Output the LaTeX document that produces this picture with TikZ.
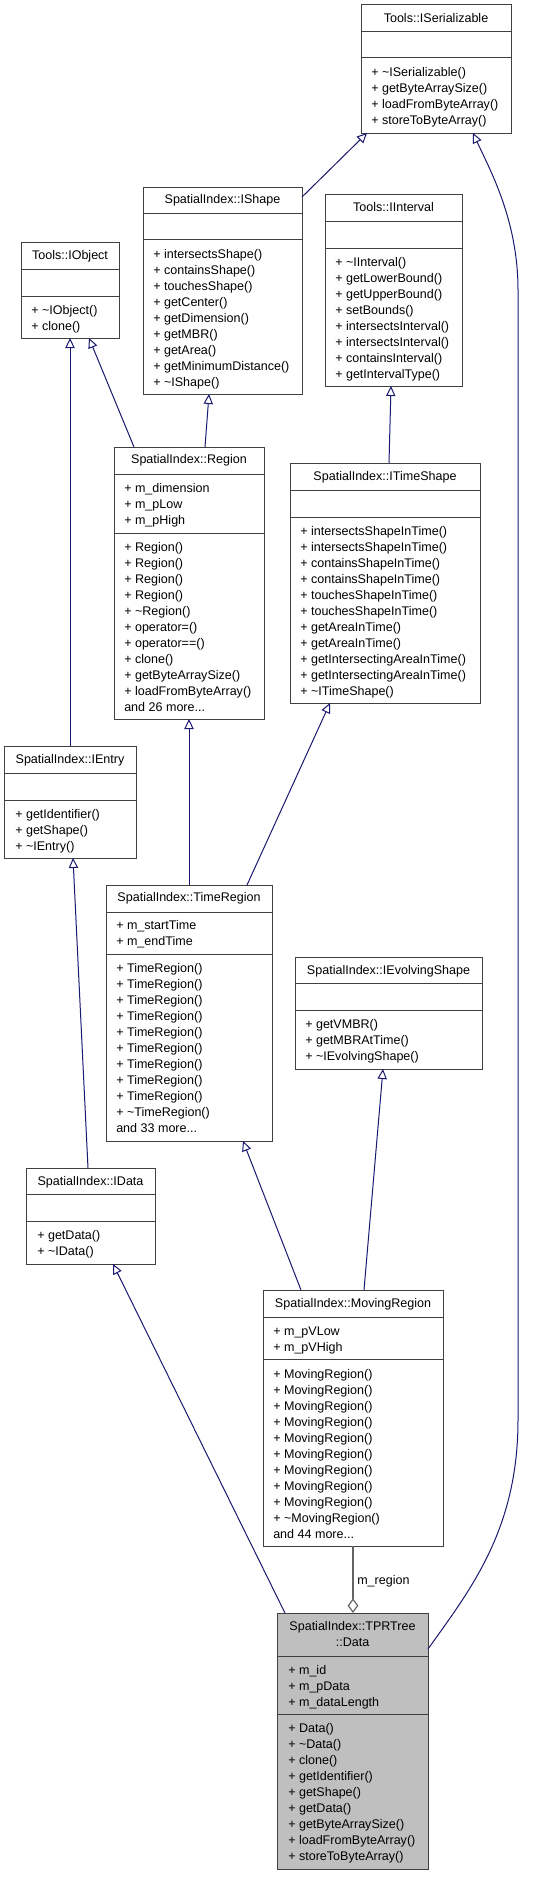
\documentclass[tikz,border=0pt]{standalone}
\usepackage{fontspec}
\setmainfont{Liberation Sans}
\usetikzlibrary{arrows.meta,calc,fit}
\definecolor{edgecol}{HTML}{191970}
\definecolor{boxline}{HTML}{404040}
\definecolor{aggrcol}{HTML}{646464}
\definecolor{datafill}{HTML}{BFBFBF}
\tikzset{
  classbox/.style={inner sep=0pt, outer sep=0pt, draw=boxline, line width=0.75pt},
  seprule/.style={draw=boxline, line width=0.75pt},
  mtxt/.style={anchor=west, inner sep=0pt, text height=7pt, text depth=2pt},
  ttxt/.style={inner sep=0pt, text height=7pt, text depth=2pt},
  inh/.style={draw=edgecol, line width=0.75pt, -{Triangle[open, length=7.5pt, width=7pt]}},
  aggr/.style={draw=aggrcol, line width=0.9pt, -{Diamond[open, length=11pt, width=8pt]}},
}
\newcommand\umlclass[8]{%
  \node[classbox, fit={(#2,#3) (#4,#5)}, #8] (#1) {};
  \draw[seprule] (#2,#6) -- (#4,#6) (#2,#7) -- (#4,#7);
}
\newcommand\mlines[3]{%
  \foreach \t [count=\k from 0] in {#3} {\node[mtxt] at (#1,{#2+16*\k}) {\t};}%
}
\newcommand\tl{\textasciitilde}
\newcommand\mdots{...}
\begin{document}
\begin{tikzpicture}[x=0.75pt, y=-0.75pt, font=\fontsize{9.4}{12}\selectfont]
\path[use as bounding box] (0,0) rectangle (545,1877);

% Tools::ISerializable
\umlclass{iserial}{361}{5}{511}{133}{32}{58}{}
\node[ttxt] (iserialT) at (436,19) {Tools::ISerializable};
\mlines{371}{73}{+ \tl ISerializable(), + getByteArraySize(), + loadFromByteArray(), + storeToByteArray()}

% SpatialIndex::IShape
\umlclass{ishape}{143}{187}{302}{394}{213}{239}{}
\node[ttxt] (ishapeT) at (222.5,200) {SpatialIndex::IShape};
\mlines{153}{255}{+ intersectsShape(), + containsShape(), + touchesShape(), + getCenter(), + getDimension(), + getMBR(), + getArea(), + getMinimumDistance(), + \tl IShape()}

% Tools::IInterval
\umlclass{iinterval}{325}{194}{462}{386}{221}{248}{}
\node[ttxt] (iintervalT) at (393.5,208) {Tools::IInterval};
\mlines{335}{263}{+ \tl IInterval(), + getLowerBound(), + getUpperBound(), + setBounds(), + intersectsInterval(), + intersectsInterval(), + containsInterval(), + getIntervalType()}

% Tools::IObject
\umlclass{iobject}{21}{242}{119}{338}{269}{296}{}
\node[ttxt] (iobjectT) at (70,256) {Tools::IObject};
\mlines{31}{311}{+ \tl IObject(), + clone()}

% SpatialIndex::Region
\umlclass{region}{114}{447}{264}{719}{474}{533}{}
\node[ttxt] (regionT) at (189,460) {SpatialIndex::Region};
\mlines{124}{489}{+ m\_dimension, + m\_pLow, + m\_pHigh}
\mlines{124}{548}{+ Region(), + Region(), + Region(), + Region(), + \tl Region(), + operator=(), + operator==(), + clone(), + getByteArraySize(), + loadFromByteArray(), and 26 more\mdots}

% SpatialIndex::ITimeShape
\umlclass{itimeshape}{290}{463}{480}{703}{490}{517}{}
\node[ttxt] (itimeshapeT) at (385,477) {SpatialIndex::ITimeShape};
\mlines{300}{532}{+ intersectsShapeInTime(), + intersectsShapeInTime(), + containsShapeInTime(), + containsShapeInTime(), + touchesShapeInTime(), + touchesShapeInTime(), + getAreaInTime(), + getAreaInTime(), + getIntersectingAreaInTime(), + getIntersectingAreaInTime(), + \tl ITimeShape()}

% SpatialIndex::IEntry
\umlclass{ientry}{4}{746}{136}{858}{773}{800}{}
\node[ttxt] (ientryT) at (70,760) {SpatialIndex::IEntry};
\mlines{15}{815}{+ getIdentifier(), + getShape(), + \tl IEntry()}

% SpatialIndex::TimeRegion
\umlclass{timeregion}{106}{885}{272}{1141}{912}{954}{}
\node[ttxt] (timeregionT) at (189,898) {SpatialIndex::TimeRegion};
\mlines{116}{926}{+ m\_startTime, + m\_endTime}
\mlines{116}{969}{+ TimeRegion(), + TimeRegion(), + TimeRegion(), + TimeRegion(), + TimeRegion(), + TimeRegion(), + TimeRegion(), + TimeRegion(), + TimeRegion(), + \tl TimeRegion(), and 33 more\mdots}

% SpatialIndex::IEvolvingShape
\umlclass{ievolving}{295}{957}{482}{1069}{983}{1010}{}
\node[ttxt] (ievolvingT) at (388.5,971) {SpatialIndex::IEvolvingShape};
\mlines{305}{1025}{+ getVMBR(), + getMBRAtTime(), + \tl IEvolvingShape()}

% SpatialIndex::IData
\umlclass{idata}{26}{1168}{155}{1264}{1194}{1221}{}
\node[ttxt] (idataT) at (90.5,1182) {SpatialIndex::IData};
\mlines{37}{1236}{+ getData(), + \tl IData()}

% SpatialIndex::MovingRegion
\umlclass{movreg}{263}{1290}{443}{1546}{1317}{1359}{}
\node[ttxt] (movregT) at (353,1304) {SpatialIndex::MovingRegion};
\mlines{273}{1332}{+ m\_pVLow, + m\_pVHigh}
\mlines{273}{1375}{+ MovingRegion(), + MovingRegion(), + MovingRegion(), + MovingRegion(), + MovingRegion(), + MovingRegion(), + MovingRegion(), + MovingRegion(), + MovingRegion(), + \tl MovingRegion(), and 44 more\mdots}

% SpatialIndex::TPRTree::Data
\umlclass{data}{277}{1613}{428}{1869}{1656}{1714}{fill=datafill}
\node[ttxt] (dataT1) at (352.5,1627) {SpatialIndex::TPRTree};
\node[ttxt] (dataT2) at (352.5,1643) {::Data};
\mlines{288}{1671}{+ m\_id, + m\_pData, + m\_dataLength}
\mlines{288}{1729}{+ Data(), + \tl Data(), + clone(), + getIdentifier(), + getShape(), + getData(), + getByteArraySize(), + loadFromByteArray(), + storeToByteArray()}

% inheritance edges
\draw[inh] ($(ishape.north east)+(0,10)$) -- ($(iserial.south west)+(6,0)$);
\draw[inh] ($(data.north east)+(0,36)$) .. controls (470,1590) and (518,1530) .. (518,1420)
  -- (518,290) .. controls (518,220) and (490,170) .. ($(iserial.south west)+(112,0)$);
\draw[inh] ($(region.north west)+(91,0)$) -- ($(ishape.south west)+(66,0)$);
\draw[inh] ($(region.north west)+(20,0)$) -- ($(iobject.south west)+(68,0)$);
\draw[inh] ($(ientry.north west)+(66,0)$) -- ($(iobject.south west)+(49,0)$);
\draw[inh] ($(itimeshape.north west)+(99,0)$) -- ($(iinterval.south west)+(66,0)$);
\draw[inh] ($(timeregion.north west)+(83,0)$) -- ($(region.south west)+(75,0)$);
\draw[inh] ($(timeregion.north west)+(141,0)$) -- ($(itimeshape.south west)+(40,0)$);
\draw[inh] ($(idata.north west)+(62,0)$) -- ($(ientry.south west)+(69,0)$);
\draw[inh] ($(movreg.north west)+(38,0)$) -- ($(timeregion.south west)+(137,0)$);
\draw[inh] ($(movreg.north west)+(101,0)$) -- ($(ievolving.south west)+(88,0)$);
\draw[inh] ($(data.north west)+(8,0)$) -- ($(idata.south west)+(87,0)$);

% aggregation
\draw[aggr] ($(movreg.south west)+(90,0)$) -- ($(data.north west)+(76,0)$);
\node[mtxt] (mregionLbl) at (357,1581) {m\_region};
\end{tikzpicture}
\end{document}
